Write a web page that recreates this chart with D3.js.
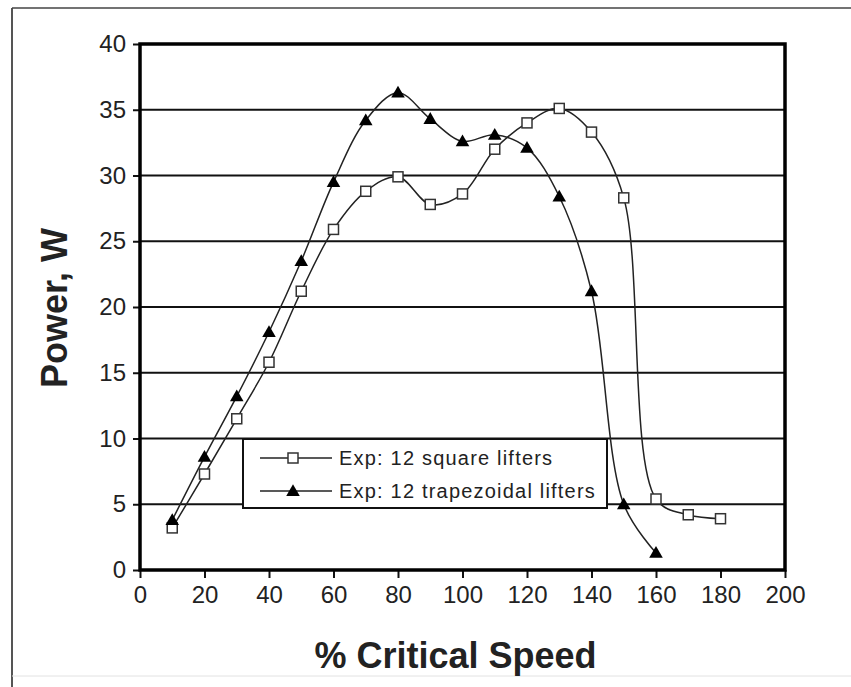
<!DOCTYPE html>
<html>
<head>
<meta charset="utf-8">
<script src="https://cdn.jsdelivr.net/npm/d3@7"></script>
<style>
  body { margin: 0; background: #fff; }
  svg text { font-family: "Liberation Sans", Arial, sans-serif; fill: #222; }
</style>
</head>
<body>
<div id="chart"></div>
<script>
// % critical speed
var speedSquare = [10, 20, 30, 40, 50, 60, 70, 80, 90, 100, 110, 120, 130, 140, 150, 160, 170, 180];
var powerSquare = [3.2, 7.3, 11.5, 15.8, 21.2, 25.9, 28.8, 29.9, 27.8, 28.6, 32.0, 34.0, 35.1, 33.3, 28.3, 5.4, 4.2, 3.9];
var speedTrap = [10, 20, 30, 40, 50, 60, 70, 80, 90, 100, 110, 120, 130, 140, 150, 160];
var powerTrap = [3.8, 8.6, 13.2, 18.1, 23.5, 29.5, 34.2, 36.3, 34.3, 32.6, 33.1, 32.1, 28.4, 21.2, 5.0, 1.3];
var xTicks = [0, 20, 40, 60, 80, 100, 120, 140, 160, 180, 200];
var yTicks = [0, 5, 10, 15, 20, 25, 30, 35, 40];
var legendLabels = ["Exp: 12 square lifters", "Exp: 12 trapezoidal lifters"];

var W = 851, H = 687;
var svg = d3.select("#chart").append("svg")
    .attr("width", W)
    .attr("height", H);

// outer frame of the scanned figure
svg.append("line").attr("x1", 12).attr("x2", 12).attr("y1", 8).attr("y2", H)
    .attr("stroke", "#555").attr("stroke-width", 2);
svg.append("line").attr("x1", 12).attr("x2", W).attr("y1", 8).attr("y2", 8)
    .attr("stroke", "#444").attr("stroke-width", 1.5);
svg.append("line").attr("x1", 12).attr("x2", W).attr("y1", 676).attr("y2", 676)
    .attr("stroke", "#e2e2e2").attr("stroke-width", 1);

var pLeft = 140, pRight = 785, pTop = 44, pBottom = 570;

var x = d3.scaleLinear().domain([0, 200]).range([pLeft, pRight]);
var y = d3.scaleLinear().domain([0, 40]).range([pBottom, pTop]);

// gridlines
svg.append("g").selectAll("line")
    .data(yTicks.filter(function(d){ return d > 0 && d < 40; }))
    .enter().append("line")
    .attr("x1", pLeft).attr("x2", pRight)
    .attr("y1", function(d){ return y(d); })
    .attr("y2", function(d){ return y(d); })
    .attr("stroke", "#111").attr("stroke-width", 2);

// axes
var xAxis = svg.append("g")
    .attr("transform", "translate(0," + pBottom + ")")
    .call(d3.axisBottom(x).tickValues(xTicks).tickSize(8).tickPadding(8));
var yAxis = svg.append("g")
    .attr("transform", "translate(" + pLeft + ",0)")
    .call(d3.axisLeft(y).tickValues(yTicks).tickSize(7).tickPadding(7));

[xAxis, yAxis].forEach(function(a){
    a.select(".domain").remove();
    a.selectAll(".tick line").attr("stroke", "#111").attr("stroke-width", 2);
    a.selectAll(".tick text")
        .style("font-size", "24px")
        .style("font-family", "'Liberation Sans', Arial, sans-serif")
        .attr("fill", "#222");
});

// plot border
svg.append("rect")
    .attr("x", pLeft).attr("y", pTop)
    .attr("width", pRight - pLeft).attr("height", pBottom - pTop)
    .attr("fill", "none").attr("stroke", "#000").attr("stroke-width", 3.5);

// series
var sq = speedSquare.map(function(s, i){ return [s, powerSquare[i]]; });
var tr = speedTrap.map(function(s, i){ return [s, powerTrap[i]]; });

var line = d3.line()
    .x(function(d){ return x(d[0]); })
    .y(function(d){ return y(d[1]); })
    .curve(d3.curveCatmullRom.alpha(0.5));

// legend box (drawn before the curves, covers gridline at 5)
var lg = svg.append("g");
lg.append("rect")
    .attr("x", 243).attr("y", 439)
    .attr("width", 364).attr("height", 69)
    .attr("fill", "#fff").attr("stroke", "#111").attr("stroke-width", 2);

svg.append("path").datum(sq)
    .attr("d", line).attr("fill", "none")
    .attr("stroke", "#222").attr("stroke-width", 1.5);
svg.append("path").datum(tr)
    .attr("d", line).attr("fill", "none")
    .attr("stroke", "#222").attr("stroke-width", 1.5);

var tri = d3.symbol().type(d3.symbolTriangle).size(80);

svg.append("g").selectAll("rect")
    .data(sq).enter().append("rect")
    .attr("x", function(d){ return x(d[0]) - 5; })
    .attr("y", function(d){ return y(d[1]) - 5; })
    .attr("width", 10).attr("height", 10)
    .attr("fill", "#fff").attr("stroke", "#333").attr("stroke-width", 1.5);

svg.append("g").selectAll("path")
    .data(tr).enter().append("path")
    .attr("d", tri)
    .attr("transform", function(d){ return "translate(" + x(d[0]) + "," + (y(d[1]) + 1) + ")"; })
    .attr("fill", "#000");

// legend entries
var rows = [458, 491];
lg.selectAll("line.k")
    .data(rows).enter().append("line")
    .attr("x1", 260).attr("x2", 332)
    .attr("y1", function(d){ return d; }).attr("y2", function(d){ return d; })
    .attr("stroke", "#222").attr("stroke-width", 1.5);
lg.append("rect")
    .attr("x", 288).attr("y", rows[0] - 5).attr("width", 10).attr("height", 10)
    .attr("fill", "#fff").attr("stroke", "#333").attr("stroke-width", 1.5);
lg.append("path").attr("d", tri)
    .attr("transform", "translate(293," + (rows[1] + 1) + ")")
    .attr("fill", "#000");
lg.selectAll("text")
    .data(legendLabels).enter().append("text")
    .attr("x", 339)
    .attr("y", function(d, i){ return rows[i] + 7; })
    .style("font-size", "20px")
    .style("letter-spacing", "1.2px")
    .attr("fill", "#333")
    .text(function(d){ return d; });

// axis titles
svg.append("text")
    .attr("x", (pLeft + pRight) / 2 - 7)
    .attr("y", 668)
    .attr("text-anchor", "middle")
    .style("font-size", "36px")
    .style("font-weight", "bold")
    .attr("fill", "#111")
    .text("% Critical Speed");

svg.append("text")
    .attr("transform", "translate(67," + 308 + ") rotate(-90)")
    .attr("text-anchor", "middle")
    .style("font-size", "36px")
    .style("font-weight", "bold")
    .attr("fill", "#111")
    .text("Power, W");
</script>
</body>
</html>
